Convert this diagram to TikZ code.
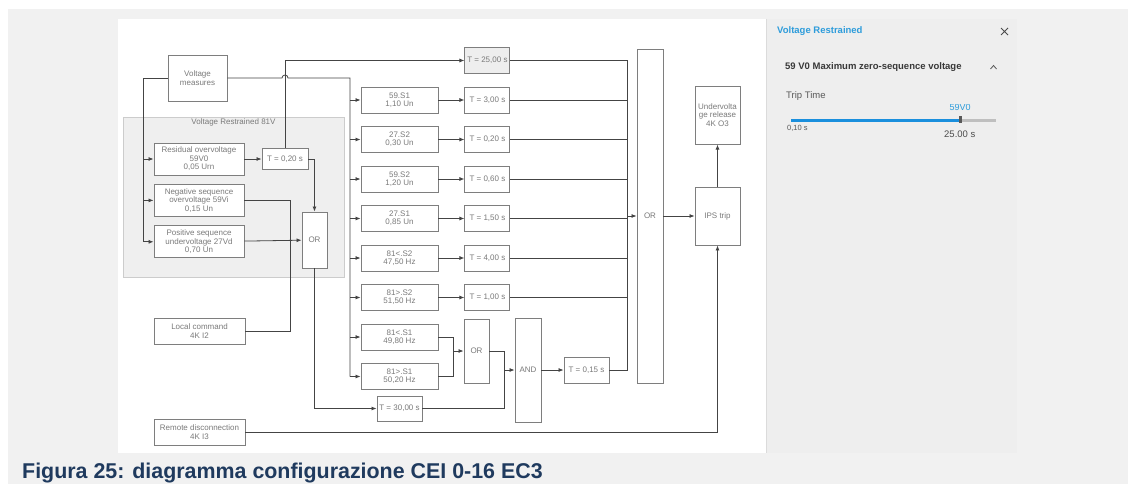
\documentclass[tikz,border=0pt]{standalone}
\usepackage{fontspec}
\setmainfont{Liberation Sans}
\usetikzlibrary{positioning,calc,arrows.meta}
\definecolor{boxline}{HTML}{7E7E7E}
\definecolor{boxtext}{HTML}{7A7A7A}
\definecolor{wiredark}{HTML}{444444}
\definecolor{pagegray}{HTML}{F1F1F1}
\definecolor{panelgray}{HTML}{EEEEEE}
\definecolor{groupgray}{HTML}{EFEFEF}
\definecolor{linkblue}{HTML}{2D9CDB}
\definecolor{slideblue}{HTML}{1A8FDD}
\definecolor{navy}{HTML}{1F3A5E}
\tikzset{
  blk/.style  = {draw=boxline, line width=0.9pt, fill=white, text=boxtext, align=center,
                 inner sep=0pt, font=\fontsize{8}{8.4}\selectfont},
  fbox/.style = {blk, minimum width=77pt, minimum height=26pt},
  gbox/.style = {blk, minimum width=90pt, minimum height=32pt},
  tbox/.style = {blk, minimum width=45pt, minimum height=26pt},
  gate/.style = {blk, minimum width=25pt},
  wire/.style = {draw=wiredark, line width=0.8pt},
  post/.style = {wire, -{Latex[length=5pt,width=4pt]}},
  ptext/.style = {anchor=west, inner sep=0pt}
}

\begin{document}
\begin{tikzpicture}[x=1pt, y=-1pt]
  \useasboundingbox (0,0) rectangle (1131,484);
  \clip (0,0) rectangle (1131,484);
  % page and panels
  \fill[white] (0,0) rectangle (1131,484);
  \fill[pagegray] (8,9) rectangle (1128,484);
  \fill[white] (118,19) rectangle (766,453);
  \fill[panelgray] (766,19) rectangle (1017,453);
  \draw[black!14, line width=1.5pt] (766.5,19) -- (766.5,453);

  % group 81V
  \node[draw=black!20, fill=groupgray, minimum width=221pt, minimum height=160pt, inner sep=0pt] (grp) at (233.5,197) {};
  \node[text=boxtext, font=\fontsize{8}{8}\selectfont, inner sep=0pt] (grptitle) at (233.5,122) {Voltage Restrained 81V};

  \node[blk, minimum width=59pt, minimum height=46pt] (vmeas) at (197.5,78) {Voltage\\measures};
  \node[gbox] (resid) at (199,159) {Residual overvoltage\\59V0\\0,05 Urn};
  \node[gbox, below=8.5pt of resid] (negseq) {Negative sequence\\overvoltage 59Vi\\0,15 Un};
  \node[gbox, below=8.5pt of negseq] (posseq) {Positive sequence\\undervoltage 27Vd\\0,70 Un};
  \node[tbox, minimum width=46pt, minimum height=21pt] (tres) at (285,159) {T = 0,20 s};
  \node[gate, minimum height=56pt] (orv) at (314.5,240) {OR};
  \node[blk, minimum width=91pt, minimum height=26pt] (locc) at (199.5,331) {Local command\\4K I2};
  \node[blk, minimum width=91pt, minimum height=26pt] (remd) at (199.5,432) {Remote disconnection\\4K I3};

  % thresholds
  \node[fbox] (s1) at (399.5,100) {59.S1\\1,10 Un};
  \node[fbox, below=12.6pt of s1] (s2) {27.S2\\0,30 Un};
  \node[fbox, below=12.6pt of s2] (s3) {59.S2\\1,20 Un};
  \node[fbox, below=12.6pt of s3] (s4) {27.S1\\0,85 Un};
  \node[fbox, below=12.6pt of s4] (s5) {81<.S2\\47,50 Hz};
  \node[fbox, below=12.6pt of s5] (s6) {81>.S2\\51,50 Hz};
  \node[fbox, below=12.6pt of s6] (s7) {81<.S1\\49,80 Hz};
  \node[fbox, below=12.6pt of s7] (s8) {81>.S1\\50,20 Hz};

  % timers
  \node[tbox, right=26pt of s1] (t1) {T = 3,00 s};
  \node[tbox, above=12.6pt of t1, fill=panelgray] (t0) {T = 25,00 s};
  \node[tbox, right=26pt of s2] (t2) {T = 0,20 s};
  \node[tbox, right=26pt of s3] (t3) {T = 0,60 s};
  \node[tbox, right=26pt of s4] (t4) {T = 1,50 s};
  \node[tbox, right=26pt of s5] (t5) {T = 4,00 s};
  \node[tbox, right=26pt of s6] (t6) {T = 1,00 s};
  \node[tbox, minimum height=25pt] (t30) at (399.5,408.5) {T = 30,00 s};

  % logic
  \node[gate, minimum height=64pt] (orf) at (476.5,351) {OR};
  \node[gate, minimum width=26pt, minimum height=104pt] (andg) at (528,370) {AND};
  \node[tbox] (t15) at (586.5,370) {T = 0,15 s};
  \node[gate, minimum width=26pt, minimum height=334pt] (orbig) at (650,216) {OR};
  \node[blk, minimum width=45pt, minimum height=58pt] (ips) at (717.5,216) {IPS trip};
  \node[blk, minimum width=45pt, minimum height=58pt, above=42pt of ips] (uvr) {Undervolta\\ge release\\4K O3};

  % wiring
  \coordinate (lbus) at (143,0);
  \coordinate (rbus) at (350,0);
  \coordinate (cbus) at (627,0);
  \coordinate (jor) at (453,0);
  \coordinate (jand) at (504,0);
  \draw[wire] (vmeas.west) -- (vmeas.west -| lbus) -- (lbus |- posseq);
  \foreach \n in {resid,negseq,posseq}
    \draw[post] (lbus |- \n.west) -- (\n.west);
  \draw[post] (resid) -- (tres);
  \draw[post] (tres.east) -| (orv.north);
  \draw[post] (tres.north) |- (t0.west);
  \draw[post] (posseq) -- (orv);
  \draw[wire] (negseq.east) -- ++(46pt,0) |- (locc.east);
  \draw[post] (orv.south) |- (t30.west);

  \draw[wire] (vmeas.east) -- ($(vmeas.east -| tres)+(-3pt,0)$) arc (180:0:3pt)
    -- (vmeas.east -| rbus) -- (rbus |- s8);
  \foreach \n in {1,...,8}
    \draw[post] (rbus |- s\n.west) -- (s\n.west);
  \foreach \n in {1,...,6}
    \draw[post] (s\n) -- (t\n);

  \draw[wire] (s7.east) -| (jor |- orf);
  \draw[wire] (s8.east) -| (jor |- orf);
  \draw[post] (jor |- orf) -- (orf.west);
  \draw[wire] (orf.east) -| (jand |- andg);
  \draw[wire] (t30.east) -| (jand |- andg);
  \draw[post] (jand |- andg) -- (andg.west);
  \draw[post] (andg) -- (t15);

  \foreach \n in {0,...,6}
    \draw[wire] (t\n.east) -- (t\n.east -| cbus);
  \draw[wire] (t15.east) -- (t15.east -| cbus) -- (cbus |- t0.east);
  \draw[post] (cbus |- orbig) -- (orbig.west);
  \draw[post] (orbig) -- (ips);
  \draw[post] (ips) -- (uvr);
  \draw[post] (remd.east) -| (ips.south);

  % side panel
  \node[ptext, text=linkblue, font=\fontsize{9.5}{11}\selectfont\bfseries] (ptitle) at (777,31) {Voltage Restrained};
  \draw[black!70, line width=0.8pt] (1001,28) -- (1008,35) (1001,35) -- (1008,28);
  \node[ptext, text=black!78, font=\fontsize{9.5}{11}\selectfont\bfseries] (psec) at (785,67) {59 V0 Maximum zero-sequence voltage};
  \draw[black!65, line width=0.8pt] (990.5,69) -- (993.5,65.5) -- (996.5,69);
  \node[ptext, text=black!65, font=\fontsize{9.5}{11}\selectfont] (ptrip) at (786,96) {Trip Time};
  \begin{scope}
    \clip (935,105) rectangle (990,113);
    \node[text=linkblue, font=\fontsize{9}{10}\selectfont, inner sep=0pt] (pval) at (960,107.5) {59V0};
  \end{scope}
  \draw[slideblue, line width=3pt] (791,120) -- (960,120);
  \draw[black!25, line width=3pt] (960,120) -- (996,120);
  \fill[black!65] (959,116) rectangle (962,123);
  \node[ptext, text=black!65, font=\fontsize{7.5}{9}\selectfont] (pmin) at (787,128) {0,10 s};
  \node[ptext, text=black!70, font=\fontsize{9.5}{11}\selectfont] (pmax) at (944,134) {25.00 s};

  % caption
  \node[anchor=base west, inner sep=0pt, text=navy, font=\fontsize{21.4}{24}\selectfont\bfseries] (caption) at (22,478.5) {Figura 25: diagramma configurazione CEI 0-16 EC3};
\end{tikzpicture}
\end{document}
